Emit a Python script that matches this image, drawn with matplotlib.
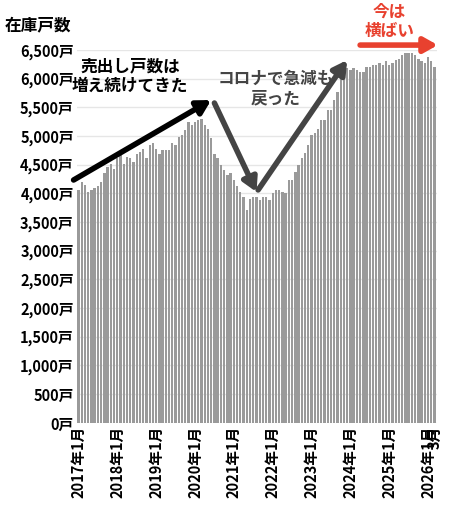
import matplotlib
matplotlib.use("Agg")
import matplotlib.pyplot as plt

plt.rcParams['font.family'] = ['Noto Sans CJK JP', 'DejaVu Sans']

values = [
 4060,4200,4140,4030,4060,4090,4120,4200,4350,4460,4520,4430,
 4610,4690,4520,4640,4610,4550,4690,4720,4780,4610,4840,4870,
 4780,4690,4750,4750,4750,4870,4840,4990,5020,5110,5250,5190,
 5250,5280,5300,5190,5130,4960,4690,4610,4490,4400,4320,4350,
 4230,4120,4030,3940,3710,3910,3940,3940,3890,3940,3940,3890,
 4000,4060,4060,4030,4000,4230,4230,4380,4490,4610,4700,4840,
 5020,5050,5130,5280,5280,5450,5450,5630,5770,6000,6240,6180,
 6150,6180,6150,6120,6120,6200,6200,6240,6240,6270,6240,6300,
 6240,6270,6330,6350,6410,6440,6450,6440,6410,6350,6300,6280,
 6380,6300,6200]
years = list(range(2017, 2027))
xlabels = [f"{y}年1月" for y in years] + ["3月"]
xpos = [12*i for i in range(len(years))] + [len(values)-1]
yticks = list(range(0, 6501, 500))
ylabels = [f"{v:,}戸" for v in yticks]

fig = plt.figure(figsize=(4.5, 5.15), dpi=100)
ax = fig.add_axes([0.17, 0.179, 0.80, 0.724])
ax.bar(range(len(values)), values, width=0.72, color='#9a9a9a', zorder=2)
ax.set_ylim(0, 6500)
ax.set_xlim(-0.6, len(values)-0.4)
ax.set_yticks(yticks)
ax.set_yticklabels(ylabels, fontsize=10.5, fontweight='bold')
ax.set_xticks(xpos)
ax.set_xticklabels(xlabels, rotation=90, fontsize=10.5, fontweight='bold')
ax.tick_params(length=0, pad=2)
ax.grid(axis='y', color='#e6e6e6', lw=1, zorder=0)
for s in ax.spines.values():
    s.set_visible(False)

fig.text(0.01, 0.95, "在庫戸数", fontsize=12, fontweight='bold', va='center')

def arrow(x0, y0, x1, y1, c):
    ax.annotate("", xy=(x1, y1), xytext=(x0, y0), annotation_clip=False,
                arrowprops=dict(arrowstyle='-|>,head_width=0.45,head_length=0.8',
                                color=c, lw=4, shrinkA=0, shrinkB=0), zorder=5)

arrow(-1.5, 4233, 41, 5627, 'black')
arrow(42, 5575, 55, 4024, '#444444')
arrow(55.5, 4060, 83, 6324, '#444444')
arrow(87, 6585, 111, 6585, '#e8412f')
ax.text(16, 6045, "売出し戸数は\n増え続けてきた", fontsize=12, fontweight='bold',
        ha='center', va='center', linespacing=1.1, zorder=6)
ax.text(61, 5830, "コロナで急減も\n戻った", fontsize=12, fontweight='bold',
        ha='center', va='center', color='#444444', linespacing=1.1, zorder=6)
ax.text(96, 7000, "今は\n横ばい", fontsize=12, fontweight='bold',
        ha='center', va='center', color='#e8412f', linespacing=1.1, zorder=6, clip_on=False)

fig.savefig("out.png", dpi=100)
